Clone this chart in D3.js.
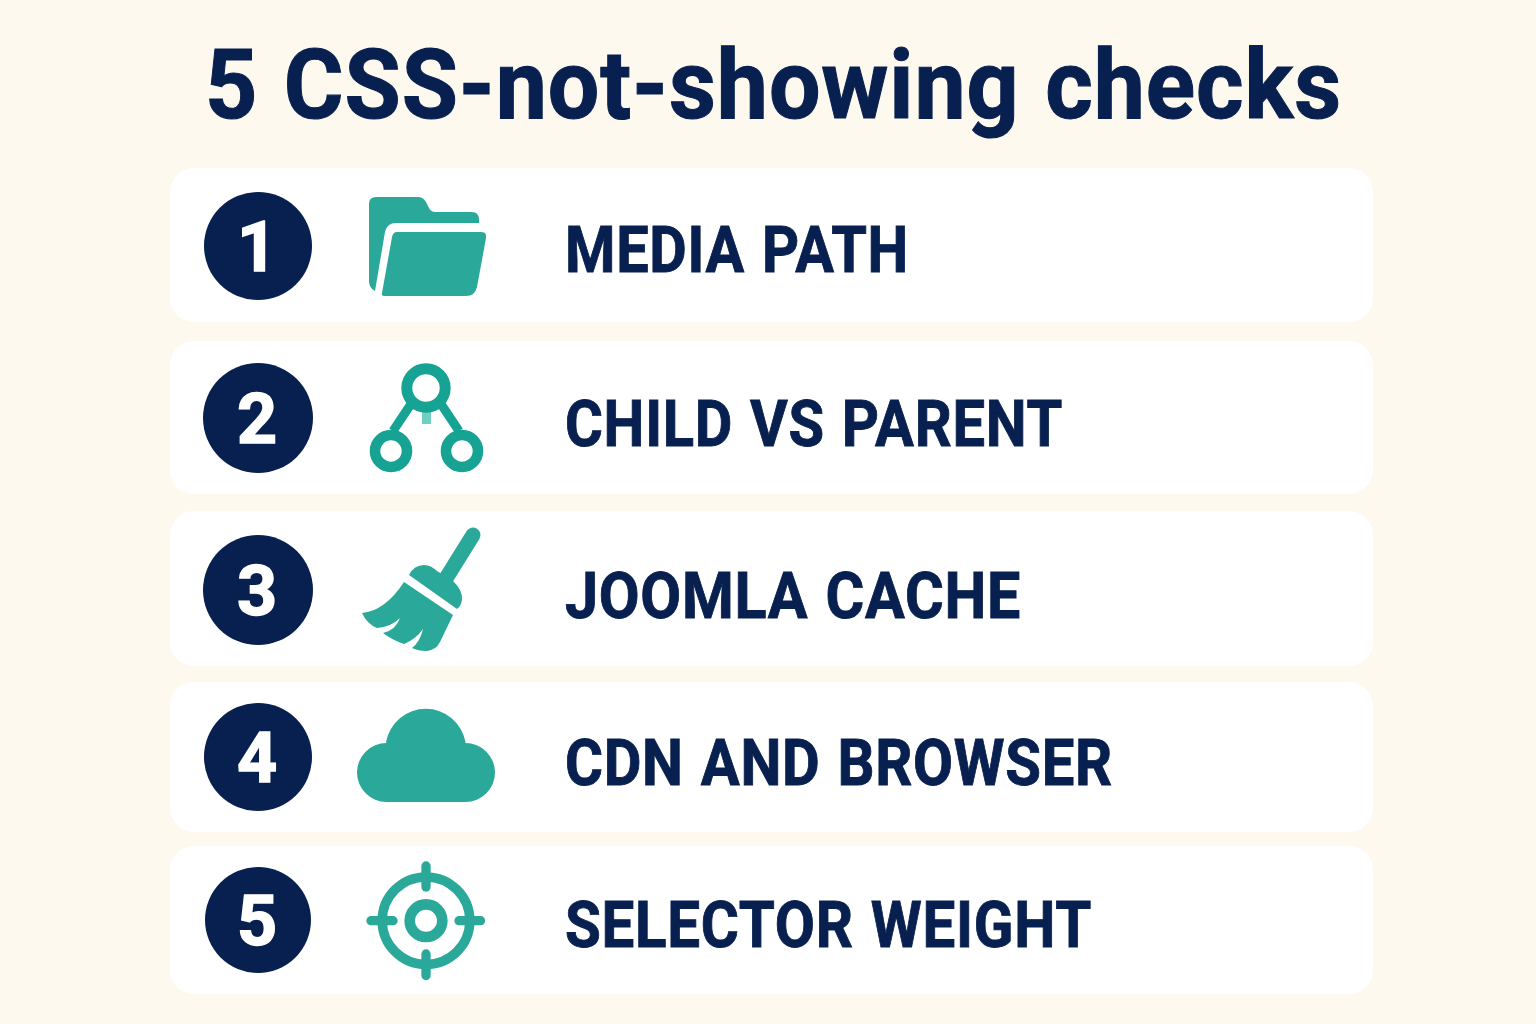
<!DOCTYPE html>
<html><head><meta charset="utf-8">
<script src="https://cdn.jsdelivr.net/npm/d3@7/dist/d3.min.js"></script>
<style>html,body{margin:0;padding:0;background:#fdf9ef}svg{display:block}</style></head>
<body><svg id="c" width="1536" height="1024"></svg>
<script>
const titleText = "5 CSS-not-showing checks";
const numbers = ["1","2","3","4","5"];
const labels = ["MEDIA PATH","CHILD VS PARENT","JOOMLA CACHE","CDN AND BROWSER","SELECTOR WEIGHT"];
const icons = ["folder","tree","broom","cloud","target"];
const cardTops = [168,341,511,682,846];
const cardBottoms = [322,494,666,832,994];
const badgeCenters = [246,418,590,757,920];
const badgeRadii = [54,55,55,54,53];
const labelBaselines = [272,446,618,785,947];
const labelWidths = [344,498,456,548,527];

const NAVY="#08204f", TEAL="#2aa99a", TEAL2="#17a394";
const svg=d3.select("#c");
svg.append("rect").attr("width",1536).attr("height",1024).attr("fill","#fdf9ef");
svg.append("text").text(titleText).attr("x",205).attr("y",118)
  .attr("font-family","Roboto").attr("font-weight",700).attr("font-size",97)
  .attr("word-spacing",2).attr("letter-spacing",1)
  .attr("textLength",1137).attr("lengthAdjust","spacingAndGlyphs").attr("fill",NAVY)
  .attr("stroke",NAVY).attr("stroke-width",1.1);

const rows=svg.selectAll("g.row").data(labels.map((l,i)=>({l,i}))).join("g").attr("class","row");
rows.append("rect").attr("x",170).attr("width",1203).attr("rx",24)
  .attr("y",d=>cardTops[d.i]).attr("height",d=>cardBottoms[d.i]-cardTops[d.i]).attr("fill","#fff");
rows.append("circle").attr("cx",258).attr("cy",d=>badgeCenters[d.i]).attr("r",d=>badgeRadii[d.i]).attr("fill",NAVY);
rows.append("text").text(d=>numbers[d.i]).attr("x",257).attr("y",d=>badgeCenters[d.i]+25)
  .attr("text-anchor","middle").attr("font-family","Roboto").attr("font-weight",700).attr("font-size",70).attr("fill","#fff")
  .attr("stroke","#fff").attr("stroke-width",1.5);
rows.append("text").text(d=>d.l).attr("x",565).attr("y",d=>labelBaselines[d.i])
  .attr("font-family","Roboto").attr("font-weight",700).attr("font-size",64)
  .attr("word-spacing",2).attr("letter-spacing",0.8)
  .attr("textLength",d=>labelWidths[d.i]).attr("lengthAdjust","spacingAndGlyphs").attr("fill",NAVY)
  .attr("stroke",NAVY).attr("stroke-width",0.9);

const draw={
 folder(g){
  g.append("path").attr("fill",TEAL).attr("d","M376 197H418Q423 197 426 202L429 208Q431 212 435 212H472Q479 212 479 220V223H396Q387 223 385 232L375 291Q369 288 369 281V204Q369 197 376 197Z");
  g.append("path").attr("fill",TEAL).attr("d","M397 232H481Q487 232 486 238L477 287Q475 296 466 296H384Q381 296 382 293L392 237Q393 232 397 232Z");
 },
 tree(g){
  g.append("rect").attr("x",422).attr("y",412).attr("width",9).attr("height",12).attr("fill","#6fcfc0");
  const s=(x1,y1,x2,y2)=>g.append("line").attr("x1",x1).attr("y1",y1).attr("x2",x2).attr("y2",y2).attr("stroke",TEAL2).attr("stroke-width",9);
  s(411,404,393,431); s(441,404,459,431);
  const c=(x,y,r,w)=>g.append("circle").attr("cx",x).attr("cy",y).attr("r",r).attr("fill","#fff").attr("stroke",TEAL2).attr("stroke-width",w);
  c(426,388,19.2,11); c(391,451,16,10.6); c(462,451,16,10.6);
 },
 broom(g){
  g.append("line").attr("x1",473).attr("y1",535).attr("x2",445).attr("y2",580).attr("stroke",TEAL).attr("stroke-width",15).attr("stroke-linecap","round");
  g.append("path").attr("fill",TEAL).attr("d","M409 575Q414 565 424 565Q431 565 437 571L452 580Q463 590 462 600Q461 606 457 609Z");
  g.append("path").attr("fill",TEAL).attr("d","M404 582L453 615L440 642Q436 650 427 651Q418 651 412 648Q420 642 423 629Q416 639 404 644Q392 640 383 633Q396 630 400 618Q391 627 377 628Q367 624 362 613Q385 611 404 582Z");
 },
 cloud(g){
  g.append("path").attr("fill",TEAL).attr("d","M386.5 802A29.500 29.500 0 0 1 386.500 743L386 742A40.400 40.400 0 0 1 465.500 742L465.500 743A29.500 29.500 0 0 1 465.500 802Z");
 },
 target(g){
  const cx=426,cy=920.7;
  g.append("circle").attr("cx",cx).attr("cy",cy).attr("r",43.8).attr("fill","none").attr("stroke",TEAL).attr("stroke-width",9.5);
  g.append("circle").attr("cx",cx).attr("cy",cy).attr("r",16.3).attr("fill","none").attr("stroke",TEAL).attr("stroke-width",10.7);
  [[cx,866,cx,887],[cx,954,cx,975.5],[371,cy,393,cy],[459,cy,480.5,cy]].forEach(a=>
   g.append("line").attr("x1",a[0]).attr("y1",a[1]).attr("x2",a[2]).attr("y2",a[3]).attr("stroke",TEAL).attr("stroke-width",9.3).attr("stroke-linecap","round"));
 }
};
rows.append("g").each(function(d){draw[icons[d.i]](d3.select(this));});
</script></body></html>
